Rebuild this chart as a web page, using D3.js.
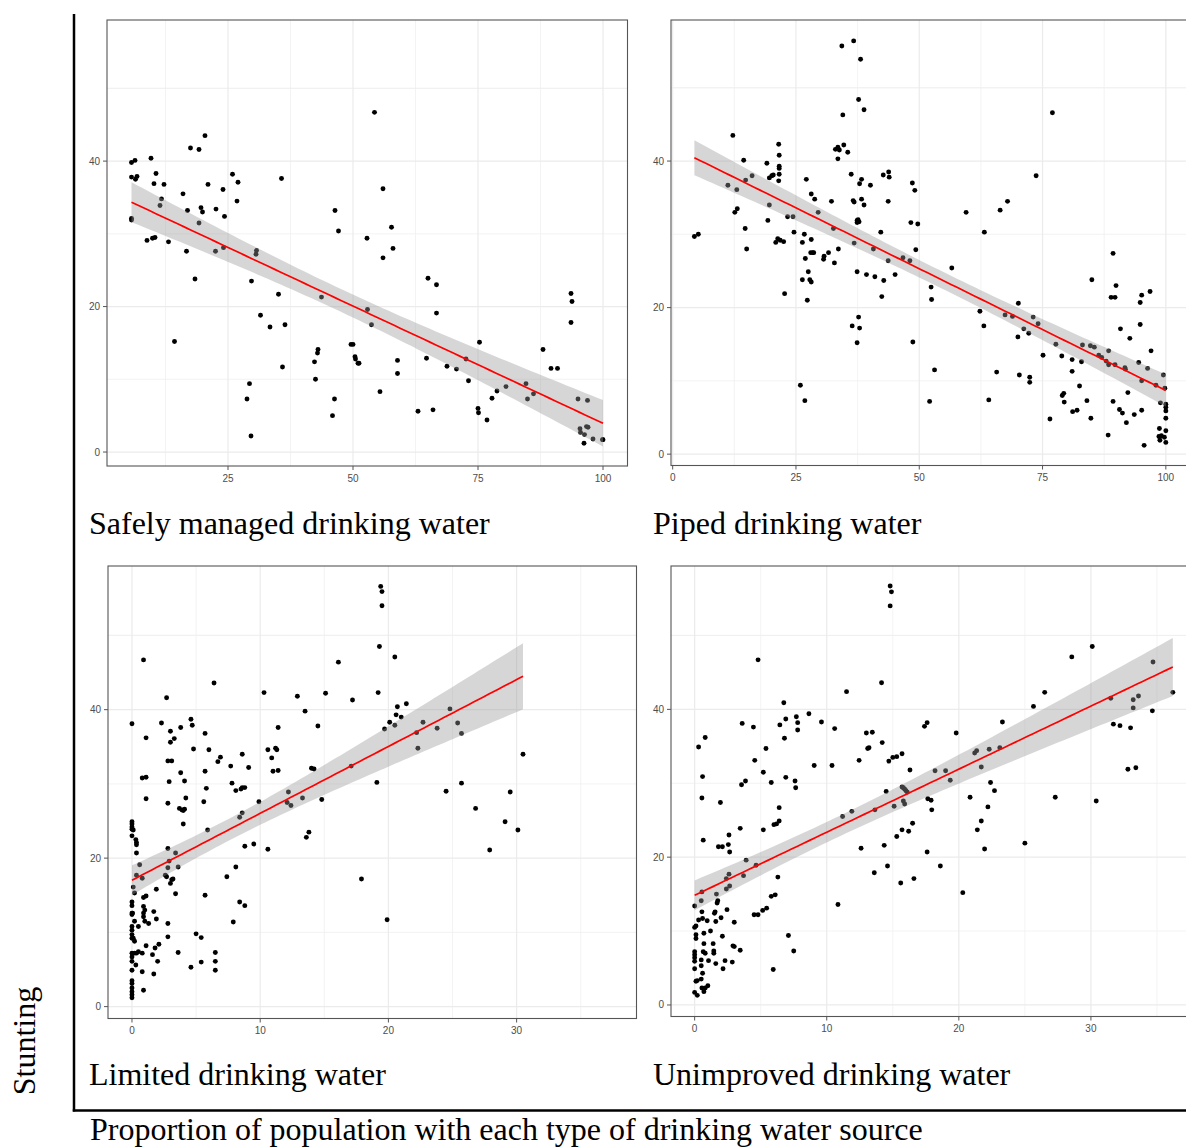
<!DOCTYPE html>
<html>
<head>
<meta charset="utf-8">
<script src="https://cdn.jsdelivr.net/npm/d3@7"></script>
<style>
  body { margin: 0; background: #fff; }
  svg { display: block; }
</style>
</head>
<body>
<div id="chart"></div>
<script>
// panel titles and axis titles
var panelTitles = ["Safely managed drinking water", "Piped drinking water",
                   "Limited drinking water", "Unimproved drinking water"];
var yTitle = "Stunting";
var xTitle = "Proportion of population with each type of drinking water source";

// tick labels
var pctTicks = [0, 25, 50, 75, 100];
var smallTicks = [0, 10, 20, 30];
var yTicks = [0, 20, 40];

// [coverage %, stunting %]
var safelyManaged = [[5.7,39.8],[6.4,40.1],[5.7,37.8],[6.5,37.5],[6.8,37.9],[5.7,32.1],[5.7,31.9],[9.6,40.4],[10.6,38.3],[10.2,36.9],[12.2,36.8],[11.7,34.8],[11.4,33.9],[8.8,29.1],[9.9,29.4],[10.4,29.5],[13.1,28.9],[14.3,15.2],[16.0,35.5],[16.9,33.2],[16.7,27.6],[17.5,41.8],[19.2,41.6],[20.4,43.5],[18.4,23.8],[19.2,31.5],[19.6,33.6],[19.9,33.0],[21.0,36.8],[22.6,33.4],[22.5,27.6],[24.0,36.1],[24.3,32.4],[24.1,28.1],[25.9,38.2],[27.0,37.1],[26.8,34.5],[28.8,7.3],[29.3,9.4],[29.6,2.2],[29.7,23.5],[30.7,27.7],[30.6,27.2],[31.5,18.8],[33.4,17.2],[35.1,21.7],[35.7,37.6],[35.9,11.7],[36.4,17.5],[43.7,21.3],[42.3,12.4],[42.5,10.0],[42.9,13.6],[43.0,14.1],[46.4,33.2],[47.1,30.4],[46.3,7.3],[45.9,5.0],[49.6,14.8],[50.0,14.8],[50.4,13.1],[50.5,12.8],[51.0,12.2],[51.2,12.2],[52.8,29.4],[52.9,19.6],[53.7,17.5],[54.3,46.7],[55.4,8.3],[56.0,36.2],[56.0,26.7],[57.7,30.9],[58.0,28.0],[58.9,12.6],[58.9,10.8],[63.0,5.6],[64.7,12.9],[65.0,23.9],[66.0,5.8],[66.7,23.0],[66.7,19.1],[68.8,11.8],[70.7,11.4],[72.6,12.8],[73.1,9.8],[75.0,6.0],[75.1,5.4],[75.3,15.1],[76.8,4.4],[77.8,7.4],[78.8,8.4],[80.6,9.0],[84.6,9.4],[84.9,7.3],[86.1,8.0],[88.0,14.1],[89.6,11.5],[90.9,11.5],[93.6,21.8],[93.8,20.7],[93.6,17.8],[95.0,7.3],[96.9,7.1],[95.4,3.2],[95.5,2.7],[96.2,1.2],[96.3,2.4],[96.7,3.5],[97.0,3.4],[98.0,1.8],[99.9,1.7],[100,1.7]];

var piped = [[4.4,29.7],[5.2,30.0],[11.2,36.7],[12.2,43.5],[12.6,33.0],[13.1,33.5],[13.0,36.1],[14.4,40.1],[14.8,37.4],[14.7,30.8],[15.0,28.0],[16.1,38.0],[19.1,39.7],[19.3,31.9],[19.6,34.0],[19.6,37.7],[20.1,38.0],[20.4,38.1],[20.9,28.9],[21.3,29.4],[21.8,29.2],[22.5,29.0],[21.5,42.3],[21.6,40.8],[21.6,39.3],[21.6,39.0],[21.6,38.2],[21.5,37.3],[22.7,21.9],[23.3,32.4],[24.4,32.4],[24.6,30.3],[25.9,9.4],[26.3,28.9],[26.3,23.8],[26.7,30.0],[26.8,7.3],[26.9,26.7],[27.1,37.5],[27.3,21.0],[27.5,24.9],[27.8,23.8],[28.1,23.5],[28.1,35.5],[28.1,29.3],[28.0,27.5],[28.4,27.5],[28.6,27.5],[28.8,34.8],[29.5,33.0],[30.6,26.6],[30.7,27.0],[31.6,27.5],[32.2,34.5],[32.6,30.8],[32.8,26.1],[33.6,28.0],[33.0,41.6],[33.5,41.9],[33.8,41.5],[33.5,40.3],[34.3,55.7],[34.5,46.3],[34.7,42.2],[35.5,41.2],[36.2,38.2],[36.6,34.6],[36.8,34.4],[36.7,56.4],[36.8,28.8],[36.4,17.5],[37.4,31.9],[37.6,32.0],[37.4,31.6],[37.8,31.7],[37.4,24.9],[37.4,15.2],[37.7,48.4],[37.9,36.9],[37.7,18.7],[37.9,17.2],[38.1,53.9],[38.3,37.5],[38.3,34.8],[38.8,47.0],[38.8,34.0],[39.3,24.5],[40.1,36.7],[40.7,28.0],[41.0,24.2],[42.2,30.3],[42.4,21.5],[42.7,38.1],[42.8,23.7],[43.7,34.5],[43.8,38.5],[43.9,37.8],[43.7,26.4],[45.1,24.5],[46.7,26.8],[48.1,26.4],[48.6,37.0],[48.3,31.6],[49.1,36.0],[49.3,27.9],[48.7,15.3],[49.7,31.4],[52.4,22.8],[52.5,21.1],[52.1,7.2],[53.1,11.5],[56.6,25.4],[59.5,33.0],[62.3,19.5],[63.1,17.5],[63.2,30.3],[64.1,7.4],[65.7,11.2],[66.4,33.3],[67.9,34.5],[67.4,19.0],[68.9,18.8],[70.1,20.6],[70.0,16.0],[70.3,10.8],[71.2,17.1],[72.2,16.5],[72.4,10.5],[72.4,9.8],[73.1,18.7],[73.7,38.0],[74.1,17.8],[75.1,13.5],[77.0,46.6],[76.5,4.8],[77.7,15.0],[78.9,13.4],[79.0,8.0],[79.3,8.3],[79.4,7.1],[81.0,12.9],[81.0,11.3],[81.1,5.8],[82.0,6.0],[82.5,9.3],[82.9,12.6],[83.1,14.9],[84.0,7.3],[84.7,14.8],[85.5,14.6],[84.8,4.9],[85.0,23.8],[86.4,13.5],[87.0,13.2],[87.9,12.7],[88.4,14.1],[88.3,2.6],[88.4,12.2],[89.3,27.4],[88.9,21.4],[89.7,21.4],[89.9,23.0],[89.3,7.2],[89.7,12.2],[90.6,6.1],[90.8,17.1],[91.2,5.6],[91.7,11.8],[91.8,11.6],[92.0,4.3],[92.3,8.4],[92.7,15.8],[93.6,5.4],[94.5,12.5],[94.8,20.7],[94.8,17.7],[95.1,21.7],[95.1,10.0],[95.1,6.0],[95.6,1.2],[96.3,11.7],[96.8,22.2],[97.0,14.1],[98.0,9.4],[98.7,3.5],[98.6,2.4],[98.8,1.9],[99.1,2.5],[99.7,2.3],[98.9,7.0],[99.5,10.8],[99.8,9.0],[100,6.8],[100,6.4],[100,5.9],[100,4.9],[100,3.2],[100,1.6]];

var limited = [[0,38.1],[0,24.9],[0,24.6],[0,24.2],[0,23.9],[0,23.0],[0,14.1],[0,13.6],[0,12.6],[0,12.4],[0,10.8],[0,10.3],[0,9.7],[0,9.2],[0,7.2],[0,6.7],[0,6.1],[0,4.9],[0,3.5],[0,3.1],[0,2.5],[0,2.0],[0,1.6],[0,1.2],[0.1,23.8],[0.3,22.5],[0.35,22.1],[0.35,21.8],[0.35,20.7],[0.2,15.3],[0.1,16.1],[0.35,17.7],[0.05,12.6],[0.2,11.5],[0.1,9.2],[0.2,8.8],[0.2,7.2],[0.3,5.6],[0.35,7.2],[0.5,7.4],[0.5,10.8],[0.6,19.1],[0.8,17.3],[0.8,4.7],[0.9,2.2],[0.9,46.7],[0.8,30.8],[1.1,30.9],[1.1,36.2],[1.1,28.0],[0.9,14.7],[1.1,14.9],[0.9,13.5],[1.0,13.0],[0.9,12.6],[0.9,12.1],[1.0,11.5],[1.3,11.2],[1.1,8.2],[0.8,7.2],[1.6,7.0],[1.7,4.4],[1.8,7.9],[1.7,12.8],[1.9,15.8],[1.9,11.8],[2.0,6.1],[2.1,8.4],[2.3,38.2],[2.7,41.6],[2.6,17.7],[2.7,17.5],[2.8,27.4],[2.9,30.3],[2.8,21.3],[2.8,18.7],[2.8,11.2],[2.8,9.4],[2.9,19.6],[3.0,37.1],[3.0,35.6],[2.8,33.1],[3.1,33.1],[3.3,36.1],[3.0,16.6],[3.1,17.1],[3.2,17.2],[3.4,20.7],[3.4,15.2],[3.6,18.8],[3.6,7.3],[3.8,37.6],[3.8,31.5],[3.7,26.7],[3.9,26.5],[4.0,26.4],[4.1,26.6],[4.1,30.4],[4.2,28.1],[4.0,24.6],[4.6,38.7],[4.7,37.9],[4.8,34.7],[4.6,5.3],[5.0,9.8],[5.4,9.3],[5.4,6.0],[5.6,27.6],[5.7,36.8],[5.7,31.7],[5.8,29.4],[5.9,23.8],[6.0,34.6],[5.7,15.0],[6.4,43.6],[6.5,7.3],[6.5,6.1],[6.5,4.9],[6.7,33.0],[6.9,33.6],[7.4,17.5],[7.7,32.4],[7.8,30.1],[7.9,11.4],[8.1,29.1],[8.1,18.8],[8.4,14.1],[8.4,25.5],[8.6,34.0],[8.5,29.3],[8.6,29.5],[8.8,29.5],[8.6,26.1],[8.8,21.6],[8.8,13.6],[9.1,32.2],[9.5,21.9],[9.9,27.6],[10.3,42.3],[10.6,21.2],[10.6,34.6],[10.9,33.5],[11.0,31.7],[11.3,34.6],[11.2,34.8],[11.4,37.6],[11.4,31.8],[12.1,27.5],[12.2,28.9],[12.4,27.1],[12.9,41.8],[13.3,28.1],[13.5,39.8],[13.6,22.8],[13.8,23.5],[14.0,32.1],[14.2,32.0],[14.5,37.8],[14.8,27.9],[15.1,42.2],[16.1,46.4],[17.1,32.4],[17.2,41.3],[17.9,17.2],[19.1,30.2],[19.2,42.3],[19.3,48.5],[19.4,56.6],[19.5,55.9],[19.5,54.0],[19.7,37.4],[19.9,11.7],[20.1,38.3],[20.5,47.1],[20.5,37.9],[20.6,39.3],[20.7,40.4],[21.0,39.0],[21.4,40.8],[22.2,36.9],[22.3,34.8],[22.7,38.3],[23.8,37.5],[24.5,29.0],[24.8,40.1],[25.4,38.2],[25.7,30.1],[25.7,36.8],[26.8,26.7],[27.9,21.1],[29.1,24.9],[29.5,28.9],[30.1,23.8],[30.5,34.0]];

var unimproved = [[0,13.4],[0,10.5],[0.1,10.7],[0.1,9.5],[0.1,9.0],[0,7.2],[0,6.8],[0,6.4],[0,5.9],[0,4.9],[0.1,3.2],[0.2,3.3],[0.5,3.5],[0,1.7],[0.2,1.3],[0.3,34.9],[0.3,11.5],[0.5,14.1],[0.55,15.3],[0.55,12.6],[0.5,6.1],[0.5,5.3],[0.55,2.3],[0.8,2.3],[0.7,1.8],[0.6,30.9],[0.55,28.0],[0.65,22.3],[0.8,36.2],[0.6,11.7],[0.7,9.7],[0.7,8.3],[0.65,7.2],[0.8,7.0],[1.0,2.6],[0.6,4.3],[0.95,11.4],[1.05,6.0],[1.2,10.0],[1.4,8.3],[1.45,7.3],[1.45,7.0],[1.5,12.4],[1.55,12.6],[1.6,5.6],[1.6,11.3],[1.65,15.0],[1.7,13.8],[1.75,14.1],[1.8,21.4],[2.1,21.4],[1.95,27.4],[2.0,11.8],[2.1,9.3],[2.15,4.9],[2.3,6.0],[2.4,17.1],[2.4,15.7],[2.45,12.9],[2.55,21.7],[2.6,23.0],[2.65,20.7],[2.6,17.7],[2.65,16.1],[2.85,5.8],[2.9,8.0],[3.0,7.9],[3.0,11.2],[3.45,7.4],[3.45,23.9],[3.55,29.8],[3.6,38.1],[3.7,17.5],[3.85,30.3],[3.9,19.6],[4.45,37.6],[4.55,33.1],[4.5,12.2],[4.8,12.2],[4.65,18.9],[4.8,46.7],[5.15,12.8],[5.2,23.7],[5.2,31.5],[5.4,34.7],[5.45,13.1],[5.8,30.1],[5.8,14.7],[5.95,4.8],[6.0,24.4],[6.2,24.5],[6.4,24.9],[6.1,14.9],[6.3,17.3],[6.4,26.7],[6.45,37.9],[6.75,40.9],[6.8,36.1],[6.9,30.8],[6.9,38.7],[7.1,9.4],[7.5,7.3],[7.6,30.3],[7.65,29.4],[7.7,39.0],[7.8,38.2],[7.8,37.2],[8.65,39.4],[9.05,32.4],[9.6,38.3],[10.4,32.4],[10.6,37.4],[10.85,13.6],[11.2,25.5],[11.5,42.4],[11.9,26.2],[12.45,33.1],[12.6,21.2],[13.0,36.8],[13.1,34.7],[13.2,34.8],[13.45,36.9],[13.6,17.9],[13.65,26.4],[14.15,43.6],[14.2,35.5],[14.35,21.6],[14.5,28.9],[14.6,18.8],[14.7,33.0],[14.8,56.7],[14.9,55.9],[14.8,54.0],[15.0,33.5],[15.1,26.9],[15.3,22.8],[15.3,33.6],[15.6,16.5],[15.7,29.5],[15.8,29.4],[15.9,29.2],[16.0,29.0],[16.1,28.8],[15.7,23.7],[15.7,34.0],[15.8,27.6],[15.9,27.2],[16.2,23.5],[16.3,31.8],[16.5,24.6],[16.6,17.1],[17.4,37.7],[17.6,38.2],[17.6,20.7],[17.65,27.9],[17.9,27.7],[17.95,26.4],[18.2,31.7],[18.6,18.8],[19.0,31.7],[19.35,30.4],[19.8,36.8],[20.3,15.2],[20.85,28.1],[21.2,34.1],[21.35,34.4],[21.4,23.7],[21.7,32.2],[21.7,24.9],[21.95,21.1],[22.2,26.8],[22.3,34.6],[22.4,30.1],[22.7,29.0],[23.1,34.8],[23.3,38.3],[25.0,21.9],[25.65,40.4],[26.5,42.3],[27.3,28.1],[28.55,47.1],[30.1,48.5],[30.4,27.6],[31.5,41.5],[31.7,38.0],[32.2,37.8],[32.8,31.9],[33.0,37.5],[33.2,41.3],[33.2,40.2],[33.4,32.1],[33.6,41.8],[34.7,46.4],[34.65,39.8],[36.2,42.3]];

// 每个面板的位置和坐标范围
var panels = [
    { title: panelTitles[0], data: safelyManaged, box: { l: 107, r: 627.5, t: 20, b: 466 },
      xDomain: [0.8, 104.9], yDomain: [-1.92, 59.4], ticks: pctTicks, titleX: 89, titleY: 534 },
    { title: panelTitles[1], data: piped, box: { l: 671, r: 1190, t: 20, b: 465.5 },
      xDomain: [-0.34, 104.9], yDomain: [-1.55, 59.25], ticks: pctTicks, titleX: 653, titleY: 534 },
    { title: panelTitles[2], data: limited, box: { l: 108, r: 636.5, t: 566, b: 1018.5 },
      xDomain: [-1.87, 39.35], yDomain: [-1.6, 59.35], ticks: smallTicks, titleX: 89, titleY: 1085 },
    { title: panelTitles[3], data: unimproved, box: { l: 671, r: 1190, t: 566, b: 1016.5 },
      xDomain: [-1.79, 37.5], yDomain: [-1.56, 59.4], ticks: smallTicks, titleX: 653, titleY: 1085 }
];

var width = 1186, height = 1147;

var svg = d3.select("#chart").append("svg")
    .attr("width", width)
    .attr("height", height);

// 95% t 分位数近似
function tQuantile(df) {
    var z = 1.959964;
    return z + (z * z * z + z) / (4 * df) + (5 * Math.pow(z, 5) + 16 * z * z * z + 3 * z) / (96 * df * df);
}

// lm 拟合 + 置信带 (geom_smooth(method = "lm"))
function linearFit(data) {
    var n = data.length;
    var mx = d3.mean(data, d => d[0]), my = d3.mean(data, d => d[1]);
    var sxx = d3.sum(data, d => (d[0] - mx) * (d[0] - mx));
    var sxy = d3.sum(data, d => (d[0] - mx) * (d[1] - my));
    var b = sxy / sxx, a = my - b * mx;
    var rss = d3.sum(data, d => Math.pow(d[1] - a - b * d[0], 2));
    var s = Math.sqrt(rss / (n - 2));
    var t = tQuantile(n - 2);
    var ext = d3.extent(data, d => d[0]);
    return d3.range(80).map(function(i) {
        var x = ext[0] + (ext[1] - ext[0]) * i / 79;
        var fit = a + b * x;
        var se = s * Math.sqrt(1 / n + (x - mx) * (x - mx) / sxx);
        return { x: x, y: fit, lo: fit - t * se, hi: fit + t * se };
    });
}

function midpoints(ticks) {
    var step = ticks[1] - ticks[0];
    return ticks.map(d => d + step / 2).concat([ticks[0] - step / 2]);
}

panels.forEach(function(p, i) {
    var x = d3.scaleLinear().domain(p.xDomain).range([p.box.l, p.box.r]);
    var y = d3.scaleLinear().domain(p.yDomain).range([p.box.b, p.box.t]);
    var inX = v => v >= p.xDomain[0] && v <= p.xDomain[1];
    var inY = v => v >= p.yDomain[0] && v <= p.yDomain[1];
    var xMajor = p.ticks.filter(inX), xMinor = midpoints(p.ticks).filter(inX);
    var yMajor = yTicks.filter(inY), yMinor = midpoints(yTicks).concat([50]).filter(inY);

    var clipId = "clip" + i;
    svg.append("clipPath").attr("id", clipId).append("rect")
        .attr("x", p.box.l).attr("y", p.box.t)
        .attr("width", p.box.r - p.box.l).attr("height", p.box.b - p.box.t);

    var g = svg.append("g");
    var inner = g.append("g").attr("clip-path", "url(#" + clipId + ")");

    // 网格线
    inner.selectAll(".vmin").data(xMinor).enter().append("line")
        .attr("x1", d => x(d)).attr("x2", d => x(d))
        .attr("y1", p.box.t).attr("y2", p.box.b)
        .attr("stroke", "#f0f0f0").attr("stroke-width", 0.8);
    inner.selectAll(".hmin").data(yMinor).enter().append("line")
        .attr("y1", d => y(d)).attr("y2", d => y(d))
        .attr("x1", p.box.l).attr("x2", p.box.r)
        .attr("stroke", "#f0f0f0").attr("stroke-width", 0.8);
    inner.selectAll(".vmaj").data(xMajor).enter().append("line")
        .attr("x1", d => x(d)).attr("x2", d => x(d))
        .attr("y1", p.box.t).attr("y2", p.box.b)
        .attr("stroke", "#ebebeb").attr("stroke-width", 1.2);
    inner.selectAll(".hmaj").data(yMajor).enter().append("line")
        .attr("y1", d => y(d)).attr("y2", d => y(d))
        .attr("x1", p.box.l).attr("x2", p.box.r)
        .attr("stroke", "#ebebeb").attr("stroke-width", 1.2);

    // 散点
    inner.selectAll("circle").data(p.data).enter().append("circle")
        .attr("cx", d => x(d[0]))
        .attr("cy", d => y(d[1]))
        .attr("r", 2.45)
        .attr("fill", "#000");

    // 置信带和回归线
    var fit = linearFit(p.data);
    inner.append("path").datum(fit)
        .attr("d", d3.area().x(d => x(d.x)).y0(d => y(d.lo)).y1(d => y(d.hi)))
        .attr("fill", "#999999").attr("fill-opacity", 0.4);
    inner.append("path").datum(fit)
        .attr("d", d3.line().x(d => x(d.x)).y(d => y(d.y)))
        .attr("fill", "none").attr("stroke", "#ff0000").attr("stroke-width", 1.7);

    // 边框
    g.append("rect")
        .attr("x", p.box.l).attr("y", p.box.t)
        .attr("width", p.box.r - p.box.l).attr("height", p.box.b - p.box.t)
        .attr("fill", "none").attr("stroke", "#555").attr("stroke-width", 1.1);

    // 坐标轴刻度
    g.selectAll(".xt").data(xMajor).enter().append("line")
        .attr("x1", d => x(d)).attr("x2", d => x(d))
        .attr("y1", p.box.b).attr("y2", p.box.b + 4)
        .attr("stroke", "#555");
    g.selectAll(".xl").data(xMajor).enter().append("text")
        .attr("x", d => x(d)).attr("y", p.box.b + 15.5)
        .attr("text-anchor", "middle")
        .style("font-family", "'Liberation Sans', Arial, sans-serif")
        .style("font-size", "10px").attr("fill", "#4d4d4d")
        .text(d => d);
    g.selectAll(".yt").data(yMajor).enter().append("line")
        .attr("x1", p.box.l - 4).attr("x2", p.box.l)
        .attr("y1", d => y(d)).attr("y2", d => y(d))
        .attr("stroke", "#555");
    g.selectAll(".yl").data(yMajor).enter().append("text")
        .attr("x", p.box.l - 7).attr("y", d => y(d) + 3.5)
        .attr("text-anchor", "end")
        .style("font-family", "'Liberation Sans', Arial, sans-serif")
        .style("font-size", "10px").attr("fill", "#4d4d4d")
        .text(d => d);

    // 面板标题
    svg.append("text")
        .attr("x", p.titleX).attr("y", p.titleY)
        .style("font-family", "'Liberation Serif', 'Times New Roman', serif")
        .style("font-size", "32px").attr("fill", "#000")
        .text(p.title);
});

// 外框线
svg.append("line").attr("x1", 74).attr("x2", 74).attr("y1", 14).attr("y2", 1111.5)
    .attr("stroke", "#000").attr("stroke-width", 2.5);
svg.append("line").attr("x1", 72.75).attr("x2", width).attr("y1", 1110.5).attr("y2", 1110.5)
    .attr("stroke", "#000").attr("stroke-width", 2.5);

svg.append("text")
    .attr("transform", "translate(35,1041) rotate(-90)")
    .attr("text-anchor", "middle")
    .style("font-family", "'Liberation Serif', 'Times New Roman', serif")
    .style("font-size", "32px").attr("fill", "#000")
    .text(yTitle);

svg.append("text")
    .attr("x", 90).attr("y", 1140)
    .style("font-family", "'Liberation Serif', 'Times New Roman', serif")
    .style("font-size", "32px").attr("fill", "#000")
    .text(xTitle);
</script>
</body>
</html>
